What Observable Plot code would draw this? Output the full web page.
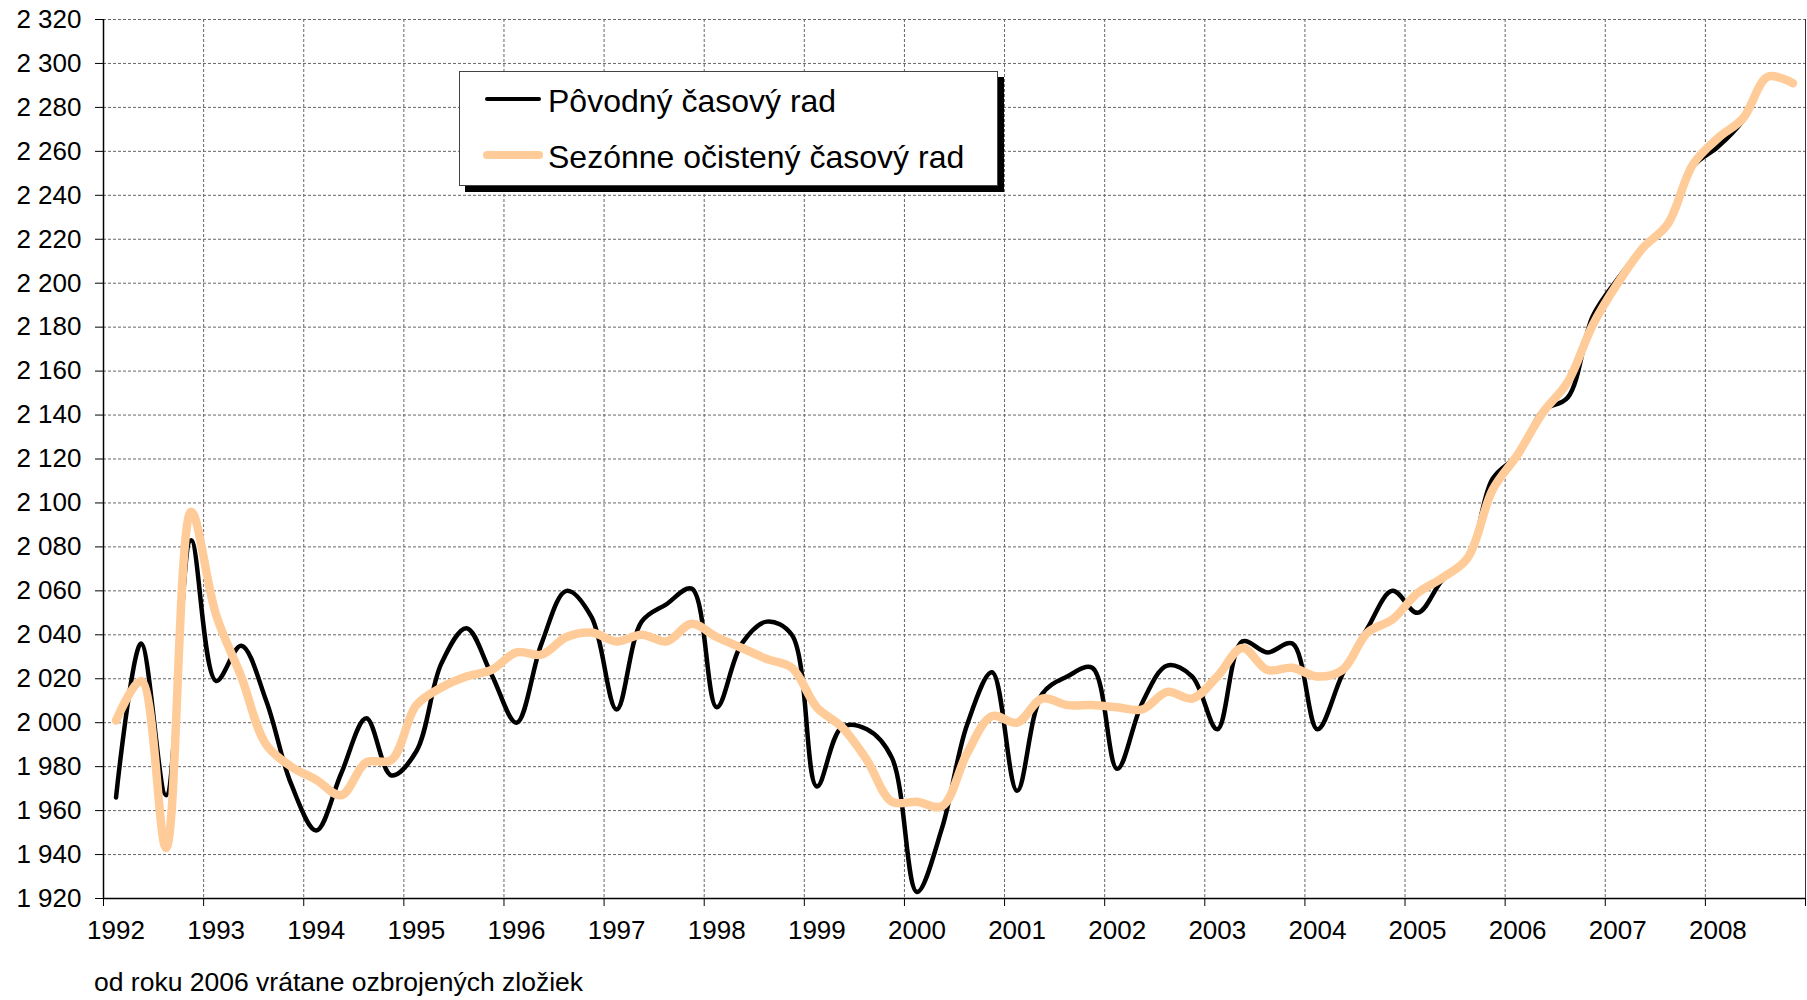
<!DOCTYPE html>
<html><head><meta charset="utf-8">
<script src="https://cdn.jsdelivr.net/npm/d3@7"></script>
<script src="https://cdn.jsdelivr.net/npm/@observablehq/plot@0.6"></script>
<style>
body{margin:0;background:#fff;font-family:"Liberation Sans",Arial,sans-serif;color:#000;}
#wrap{position:relative;width:1807px;height:1000px;overflow:hidden;}
#legend{position:absolute;left:459px;top:71px;width:537px;height:113px;background:#fff;border:1px solid #444;box-shadow:6px 6px 0 #000;}
#legend .sw{position:absolute;border-radius:4px;}
#legend .lb{position:absolute;font-size:32px;line-height:32px;white-space:nowrap;}
#note{position:absolute;left:94px;top:969px;font-size:26.5px;line-height:26.5px;white-space:nowrap;}
</style></head><body>
<div id="wrap"><div id="chart"></div>
<div id="legend">
  <div class="sw" style="left:25px;top:25px;width:56px;height:4px;background:#000"></div>
  <div class="lb" style="left:88px;top:12.5px">Pôvodný časový rad</div>
  <div class="sw" style="left:23px;top:79px;width:60px;height:8px;background:#FFCC99"></div>
  <div class="lb" style="left:88px;top:69px">Sezónne očistený časový rad</div>
</div>
<div id="note">od roku 2006 vrátane ozbrojených zložiek</div>
</div>
<script>
const startYear = 1992;
const yearBounds = d3.range(1992, 2010);
const yearLabels = d3.range(1992, 2009);
const yTicks = d3.range(1920, 2321, 20);

// Pôvodný časový rad (quarterly, 1992 Q1 – 2008 Q4)
const povodny = [
  1966, 2036, 1967, 2083,
  2019, 2035, 2010, 1972,
  1951, 1977, 2002, 1976,
  1987, 2027, 2043, 2022,
  2000, 2036, 2060, 2048,
  2006, 2046, 2054, 2061,
  2007, 2036, 2046, 2040,
  1971, 1998, 1997, 1984,
  1923, 1952, 1999, 2023,
  1969, 2013, 2021, 2025,
  1979, 2009, 2026, 2021,
  1997, 2037, 2032, 2036,
  1997, 2022, 2043, 2060,
  2050, 2065, 2074, 2111,
  2122, 2142, 2148, 2185,
  2202, 2216, 2226, 2253,
  2262, 2274, 2294, 2291
];
// Sezónne očistený časový rad
const ocisteny = [
  2001, 2019, 1943, 2096,
  2049, 2021, 1990, 1980,
  1974, 1967, 1982, 1983,
  2008, 2016, 2021, 2024,
  2032, 2031, 2039, 2041,
  2037, 2040, 2037, 2045,
  2039, 2034, 2029, 2025,
  2007, 1998, 1983, 1964,
  1964, 1962, 1986, 2003,
  2000, 2011, 2008, 2008,
  2007, 2006, 2014, 2011,
  2021, 2034, 2024, 2025,
  2021, 2024, 2041, 2047,
  2059, 2066, 2075, 2106,
  2122, 2141, 2155, 2181,
  2200, 2216, 2227, 2254,
  2266, 2275, 2294, 2291
];

const toRows = arr => arr.map((v, i) => ({t: startYear + (i + 0.5) / 4, v}));
const fmt = d => d3.format(",")(d).replace(/,/g, " ");
const grid = {stroke: "#666", strokeOpacity: 1, strokeDasharray: "3,2"};

const chart = Plot.plot({
  width: 1807,
  height: 950,
  marginTop: 19,
  marginBottom: 52,
  marginLeft: 103,
  marginRight: 2,
  style: {fontFamily: "'Liberation Sans', Arial, sans-serif", fontSize: "26px", color: "#000", background: "#fff"},
  x: {domain: [1992, 2009], label: null},
  y: {domain: [1920, 2320], label: null},
  marks: [
    Plot.gridY(yTicks, grid),
    Plot.gridX(yearBounds, grid),
    Plot.ruleX([2009], {stroke: "#333"}),
    Plot.ruleX([1992], {stroke: "#000", strokeWidth: 1.5}),
    Plot.ruleY([1920], {stroke: "#000", strokeWidth: 1.5}),
    Plot.axisY(yTicks, {tickSize: 8, tickPadding: 14, tickFormat: fmt, fontSize: 26, label: null}),
    Plot.axisX(yearBounds, {tickSize: 8, tickFormat: () => "", label: null}),
    Plot.axisX(yearLabels.map(y => y + 0.125), {tickSize: 0, tickPadding: 22, tickFormat: d => String(Math.floor(d)), fontSize: 26, label: null}),
    Plot.line(toRows(povodny), {x: "t", y: "v", stroke: "#000", strokeWidth: 4.5, curve: "catmull-rom", strokeLinecap: "round", strokeLinejoin: "round"}),
    Plot.line(toRows(ocisteny), {x: "t", y: "v", stroke: "#FFCC99", strokeWidth: 8.5, curve: "catmull-rom", strokeLinecap: "round", strokeLinejoin: "round"})
  ]
});
document.getElementById("chart").appendChild(chart);
</script>
</body></html>
